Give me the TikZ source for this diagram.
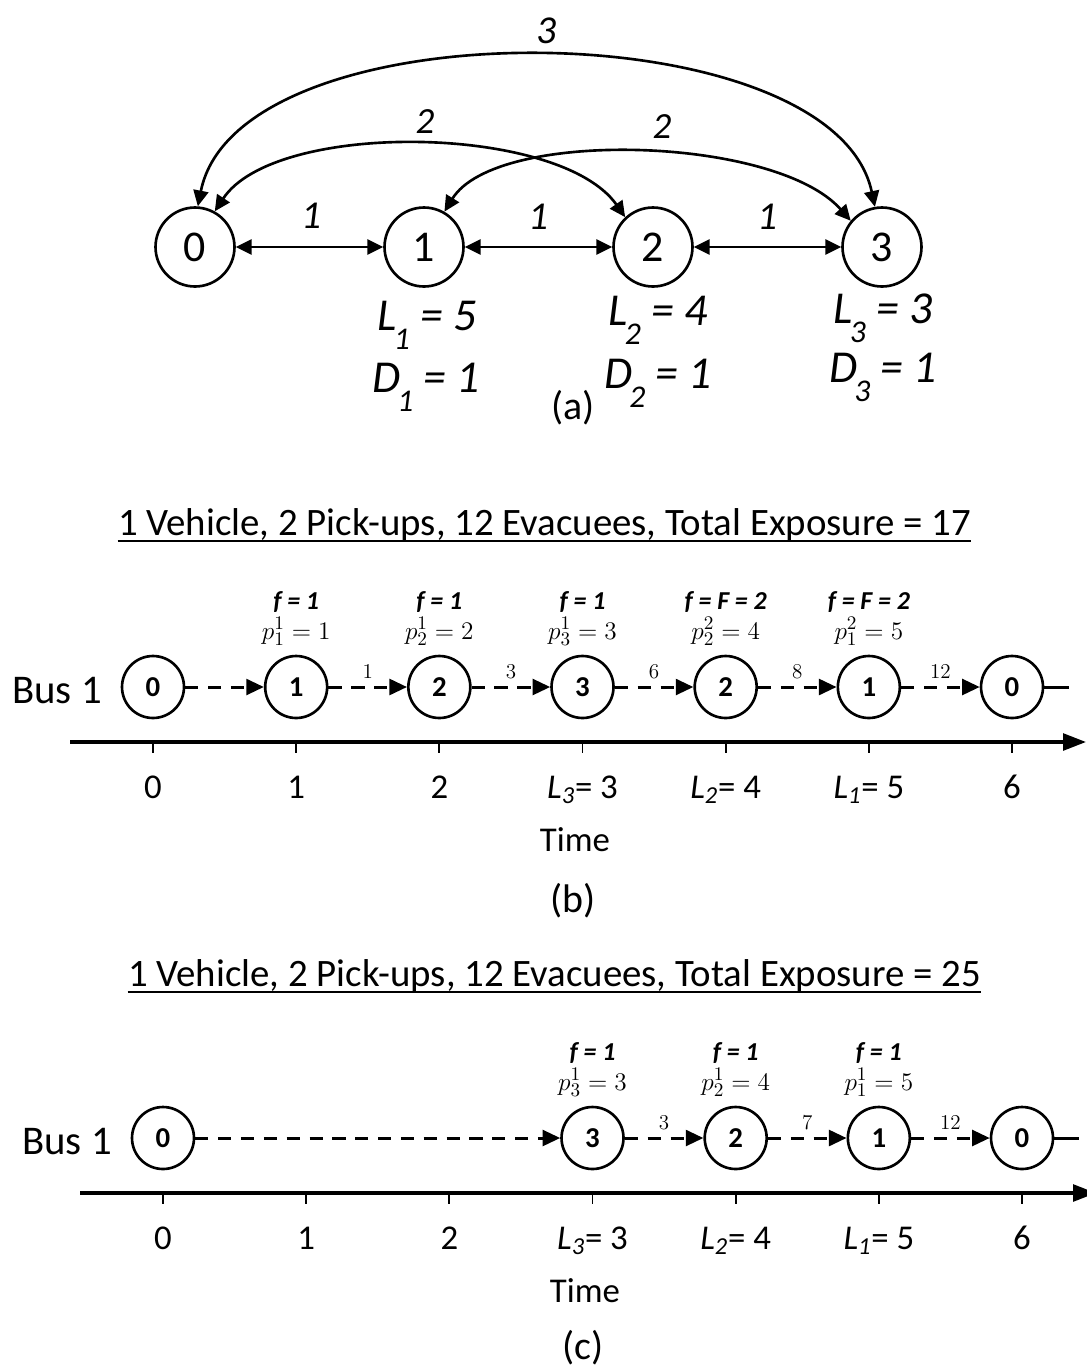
\documentclass[tikz,border=0pt]{standalone}
\usepackage[no-math]{fontspec}
\setmainfont{Carlito}
\usetikzlibrary{arrows.meta}

\newcommand\fsz[1]{\fontsize{#1}{#1}\selectfont}
\newcommand\lsub[1]{\kern-0.06em\raisebox{-11.3pt}{\fsz{18}#1}}

\tikzset{
  vert/.style={circle, draw, line width=1.5pt, minimum size=1.58cm, inner sep=0pt, font=\fsz{25}},
  link/.style={line width=1.5pt, {Triangle[length=9pt,width=8.5pt]}-{Triangle[length=9pt,width=8.5pt]}},
  elab/.style={inner sep=0pt, font=\fsz{#1}\itshape},
  cost/.style={inner sep=0pt, anchor=base, font=\fsz{26}\itshape},
  capt/.style={inner sep=0pt, anchor=base, font=\fsz{22.7}},
  ttl/.style={inner sep=0pt, anchor=base, font=\fsz{22.1}},
  uline/.style={line width=1.4pt},
  bus/.style={inner sep=0pt, anchor=base, font=\fsz{23.2}},
  stop/.style={circle, draw, line width=1.5pt, minimum size=1.24cm, inner sep=0pt, font=\fsz{16.4}\bfseries},
  hop/.style={line width=1.7pt, dash pattern=on 7.5pt off 5.5pt, -{Triangle[length=10pt,width=9pt]}},
  hoplab/.style={inner sep=0pt, yshift=8.5pt, font=\fsz{11.5}},
  stub/.style={line width=1.7pt},
  flab/.style={inner sep=0pt, anchor=base, font=\fsz{14.7}\bfseries\itshape},
  plab/.style={inner sep=0pt, anchor=base, font=\fsz{15.5}},
  axis/.style={line width=1.9pt, -{Triangle[length=13pt,width=9.5pt]}},
  tickmark/.style={line width=1.1pt},
  tlab/.style={inner sep=0pt, anchor=base, font=\fsz{19.8}},
}

\begin{document}
\begin{tikzpicture}[x=0.02cm, y=-0.02cm]
\useasboundingbox (0,0) rectangle (1086,1370);

% network of the four nodes
\foreach \i/\x in {0/195, 1/424, 2/653, 3/882}
  \node[vert] (v\i) at (\x,247) {\i};
\draw[link] (v0) -- (v1);
\draw[link] (v1) -- (v2);
\draw[link] (v2) -- (v3);
\draw[link] (v0.86) .. controls (238,4) and (833,9) .. (v3.100);
\draw[link] (v0.61) .. controls (275,120) and (560,124) .. (v2.133);
\draw[link] (v1.60) .. controls (496,128) and (776,136) .. (v3.140);
\node[elab=22.5] (w01) at (312,216) {1};
\node[elab=22.5] (w12) at (539,217) {1};
\node[elab=22.5] (w23) at (768,217) {1};
\node[elab=21] (w02) at (425,122) {2};
\node[elab=21] (w13) at (662,127) {2};
\node[elab=22.5] (w03) at (547,31) {3};
\node[cost] (L1) at (427,330) {L\lsub{1} = 5};
\node[cost] (D1) at (426,392) {D\lsub{1} = 1};
\node[cost] (L2) at (658,325) {L\lsub{2} = 4};
\node[cost] (D2) at (658,388) {D\lsub{2} = 1};
\node[cost] (L3) at (883,323) {L\lsub{3} = 3};
\node[cost] (D3) at (883,382) {D\lsub{3} = 1};
\node[capt] (capa) at (573,419) {(a)};

% first schedule
\node[ttl] (ttlb) at (544.5,535) {1 Vehicle, 2 Pick-ups, 12 Evacuees, Total Exposure = 17};
\draw[uline] ([yshift=-3.4pt]ttlb.base west) -- ([yshift=-3.4pt]ttlb.base east);
\node[bus] (busb) at (57,703) {Bus 1};
\foreach \k/\s in {0/0, 1/1, 2/2, 3/3, 4/2, 5/1, 6/0}
  \node[stop] (b\k) at (153+143.17*\k,687) {\s};
\draw[hop] (b0) -- (b1);
\foreach \a/\b/\t in {1/2/1, 2/3/3, 3/4/6, 4/5/8, 5/6/12}
  \draw[hop] (b\a) -- node[hoplab] (hb\a) {$\t$} (b\b);
\coordinate (eb) at (1069,687);
\draw[stub] (b6) -- (eb);
\foreach \k/\f/\p in {1/1/{p_1^1 = 1}, 2/1/{p_2^1 = 2}, 3/1/{p_3^1 = 3}, 4/{F = 2}/{p_2^2 = 4}, 5/{F = 2}/{p_1^2 = 5}} {
  \node[flab] (fb\k) at (153+143.17*\k,609) {f = \f};
  \node[plab] (pb\k) at (153+143.17*\k,639) {$\p$};
}
\coordinate (ab0) at (70,742);
\coordinate (ab1) at (1086,742);
\draw[axis] (ab0) -- (ab1);
\foreach \k/\t in {0/0, 1/1, 2/2, 3/{\textit{L}\textsubscript{\textit{3}}= 3}, 4/{\textit{L}\textsubscript{\textit{2}}= 4}, 5/{\textit{L}\textsubscript{\textit{1}}= 5}, 6/6} {
  \draw[tickmark] (153+143.17*\k,742) -- (153+143.17*\k,753);
  \node[tlab] (tb\k) at (153+143.17*\k,798) {\t};
}
\node[tlab] (timeb) at (575,851) {Time};
\node[capt] (capb) at (573,912) {(b)};

% second schedule
\begin{scope}[shift={(10,451)}]
\node[ttl] (ttlc) at (544.5,535) {1 Vehicle, 2 Pick-ups, 12 Evacuees, Total Exposure = 25};
\draw[uline] ([yshift=-3.4pt]ttlc.base west) -- ([yshift=-3.4pt]ttlc.base east);
\node[bus] (busc) at (57,703) {Bus 1};
\foreach \k/\s in {0/0, 3/3, 4/2, 5/1, 6/0}
  \node[stop] (c\k) at (153+143.17*\k,687) {\s};
\draw[hop] (c0) -- (c3);
\foreach \a/\b/\t in {3/4/3, 4/5/7, 5/6/12}
  \draw[hop] (c\a) -- node[hoplab] (hc\a) {$\t$} (c\b);
\coordinate (ec) at (1069,687);
\draw[stub] (c6) -- (ec);
\foreach \k/\p in {3/{p_3^1 = 3}, 4/{p_2^1 = 4}, 5/{p_1^1 = 5}} {
  \node[flab] (fc\k) at (153+143.17*\k,609) {f = 1};
  \node[plab] (pc\k) at (153+143.17*\k,639) {$\p$};
}
\coordinate (ac0) at (70,742);
\coordinate (ac1) at (1086,742);
\draw[axis] (ac0) -- (ac1);
\foreach \k/\t in {0/0, 1/1, 2/2, 3/{\textit{L}\textsubscript{\textit{3}}= 3}, 4/{\textit{L}\textsubscript{\textit{2}}= 4}, 5/{\textit{L}\textsubscript{\textit{1}}= 5}, 6/6} {
  \draw[tickmark] (153+143.17*\k,742) -- (153+143.17*\k,753);
  \node[tlab] (tc\k) at (153+143.17*\k,798) {\t};
}
\node[tlab] (timec) at (575,851) {Time};
\node[capt] (capc) at (573,908) {(c)};
\end{scope}
\end{tikzpicture}
\end{document}
